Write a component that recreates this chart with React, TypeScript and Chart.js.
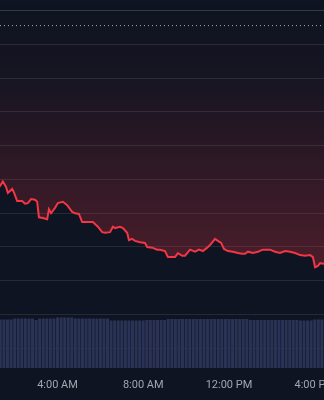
import React, { useEffect, useRef } from "react";
import { Chart, registerables } from "chart.js";

Chart.register(...registerables);

// Session window shown (minutes after midnight)
const axisStart = 79;
const axisEnd = 986;
const gridStepMinutes = 60;
const labelEveryMinutes = 240;

// Price line: time (minutes after midnight) and price
const priceTimes = [
  73, 79, 87, 96, 101, 113, 118, 127, 141, 149, 157, 166, 177, 183, 188, 199, 211, 216, 222, 233,
  241, 255, 267, 281, 289, 300, 309, 325, 339, 353, 365, 373, 387, 395, 401, 415, 423, 435, 440, 449,
  457, 471, 485, 491, 505, 519, 527, 541, 549, 569, 577, 589, 597, 611, 625, 636, 647, 659, 667, 681,
  689, 698, 706, 717, 731, 745, 757, 765, 773, 787, 801, 815, 835, 849, 863, 877, 891, 905, 919, 933,
  947, 955, 961, 969, 975, 986, 995,
];
const prices = [
  187.37, 187.4, 187.47, 187.39, 187.3, 187.36, 187.31, 187.18, 187.18, 187.14, 187.15, 187.21, 187.2, 187.17, 186.94, 186.93, 186.91, 187.06, 187.0, 187.08,
  187.15, 187.17, 187.12, 187.02, 187.0, 186.99, 186.87, 186.87, 186.87, 186.8, 186.72, 186.71, 186.72, 186.8, 186.78, 186.8, 186.78, 186.71, 186.6, 186.62,
  186.59, 186.57, 186.56, 186.5, 186.49, 186.46, 186.46, 186.44, 186.35, 186.35, 186.41, 186.37, 186.37, 186.46, 186.43, 186.46, 186.44, 186.49, 186.53, 186.62,
  186.59, 186.56, 186.47, 186.44, 186.43, 186.41, 186.4, 186.4, 186.43, 186.41, 186.43, 186.46, 186.46, 186.43, 186.41, 186.44, 186.43, 186.41, 186.38, 186.37,
  186.38, 186.35, 186.2, 186.22, 186.26, 186.25, 186.25,
];

// Previous close reference level (dotted line)
const previousClose = 189.78;

// Volume: one bar every 10 minutes starting at volumeStart
const volumeStart = 70;
const volumeStep = 10;
const volumes = [
  97, 97, 97, 97, 97, 99, 99, 99, 99, 99, 99, 96, 99, 99, 99, 99, 99, 101, 101, 101,
  101, 101, 99, 99, 99, 99, 99, 99, 99, 99, 99, 99, 95, 95, 95, 95, 95, 95, 95, 95,
  95, 95, 96, 96, 96, 96, 96, 96, 98, 98, 98, 98, 98, 98, 98, 98, 98, 98, 98, 98,
  98, 98, 98, 98, 98, 98, 98, 98, 98, 98, 98, 96, 96, 96, 96, 96, 96, 96, 96, 96,
  96, 96, 96, 96, 96, 95, 95, 95, 95, 97, 97, 97,
];

// Axis ranges
const priceMin = 184.707;
const priceMax = 190.159;
const priceStep = 0.5;
const volumeMax = 736;

const formatTime = (m: number) => {
  const h24 = Math.floor(m / 60);
  const mm = Math.round(m % 60);
  const ap = h24 < 12 ? "AM" : "PM";
  const h12 = h24 % 12 === 0 ? 12 : h24 % 12;
  return `${h12}:${String(mm).padStart(2, "0")} ${ap}`;
};

export default function App() {
  const canvasRef = useRef<HTMLCanvasElement | null>(null);

  useEffect(() => {
    const canvas = canvasRef.current;
    if (!canvas) return;

    const chart = new Chart(canvas, {
      type: "line",
      data: {
        datasets: [
          {
            type: "line",
            label: "Price",
            data: priceTimes.map((t, i) => ({ x: t, y: prices[i] })),
            borderColor: "#f23645",
            borderWidth: 2,
            pointRadius: 0,
            tension: 0,
            fill: "end",
            backgroundColor: (ctx: any) => {
              const c = ctx.chart;
              const area = c.chartArea;
              if (!area) return "rgba(242,54,69,0.15)";
              const yScale = c.scales.y;
              const bottom = yScale.getPixelForValue(Math.min(...prices));
              const g = c.ctx.createLinearGradient(0, area.top, 0, bottom);
              g.addColorStop(0, "rgba(242,54,69,0)");
              g.addColorStop(0.3, "rgba(242,54,69,0.04)");
              g.addColorStop(1, "rgba(242,54,69,0.27)");
              return g;
            },
            yAxisID: "y",
            order: 1,
          } as any,
          {
            type: "line",
            label: "Previous close",
            data: [
              { x: axisStart, y: previousClose },
              { x: axisEnd, y: previousClose },
            ],
            borderColor: "#a3a7b1",
            borderWidth: 1,
            borderDash: [1, 3],
            pointRadius: 0,
            fill: false,
            yAxisID: "y",
            order: 0,
          } as any,
          {
            type: "bar",
            label: "Volume",
            data: volumes.map((v, i) => ({ x: volumeStart + i * volumeStep, y: v })),
            backgroundColor: "#2a3255",
            barPercentage: 0.85,
            categoryPercentage: 1,
            yAxisID: "yv",
            order: 3,
          } as any,
        ],
      },
      options: {
        animation: false,
        responsive: false,
        layout: { padding: 0, autoPadding: false } as any,
        plugins: {
          legend: { display: false },
          tooltip: { enabled: false },
        },
        scales: {
          x: {
            type: "linear",
            min: axisStart,
            max: axisEnd,
            offset: false,
            grid: { display: false, drawTicks: false },
            border: { display: false },
            ticks: {
              stepSize: gridStepMinutes,
              includeBounds: false,
              maxRotation: 0,
              autoSkip: false,
              padding: 11,
              color: "#a3a6af",
              font: { family: "Roboto, 'Liberation Sans', sans-serif", size: 11 },
              callback: (v: any) =>
                Number(v) % labelEveryMinutes === 0 ? formatTime(Number(v)) : "",
            },
            afterFit: (s: any) => {
              s.height = 32;
              s.paddingLeft = 0;
              s.paddingRight = 0;
            },
          } as any,
          y: {
            type: "linear",
            position: "left",
            min: priceMin,
            max: priceMax,
            grid: {
              drawTicks: false,
              lineWidth: 1,
              color: (c: any) =>
                c.tick && Math.abs(c.tick.value - 190) < 1e-6 ? "#363a45" : "#262a36",
            },
            border: { display: false },
            ticks: { display: false, stepSize: priceStep, includeBounds: false },
            afterFit: (s: any) => {
              s.width = 0;
              s.paddingTop = 0;
              s.paddingBottom = 0;
            },
          } as any,
          yv: {
            type: "linear",
            display: false,
            min: 0,
            max: volumeMax,
          },
        },
      },
    });

    return () => {
      chart.destroy();
    };
  }, []);

  return (
    <div
      style={{
        position: "fixed",
        left: 0,
        top: 0,
        width: 324,
        height: 400,
        background: "#0e1421",
        overflow: "hidden",
      }}
    >
      <canvas ref={canvasRef} width={324} height={400} style={{ display: "block" }} />
    </div>
  );
}
